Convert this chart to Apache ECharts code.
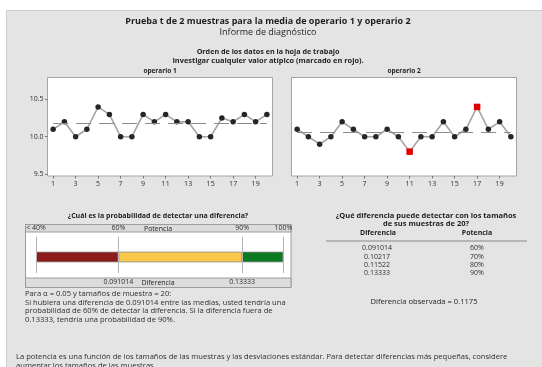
<!DOCTYPE html>
<html>
<head>
<meta charset="utf-8">
<script src="https://cdn.jsdelivr.net/npm/echarts@6/dist/echarts.min.js"></script>
<style>
html, body { margin: 0; padding: 0; background: #ffffff; }
#chart { width: 542px; height: 367px; }
</style>
</head>
<body>
<div id="chart"></div>
<script>
// Observation order (worksheet rows)
const obsOrder = ['1','2','3','4','5','6','7','8','9','10','11','12','13','14','15','16','17','18','19','20'];
// Measurements per operator
const operario1 = [10.1, 10.2, 10.0, 10.1, 10.4, 10.3, 10.0, 10.0, 10.3, 10.2, 10.3, 10.2, 10.2, 10.0, 10.0, 10.25, 10.2, 10.3, 10.2, 10.3];
const operario2 = [10.1, 10.0, 9.9, 10.0, 10.2, 10.1, 10.0, 10.0, 10.1, 10.0, 9.8, 10.0, 10.0, 10.2, 10.0, 10.1, 10.4, 10.1, 10.2, 10.0];
// Rows flagged as unusual (1-based) for operario 2
const outliers2 = [11, 17];
// Y tick labels for the data-order plots
const yTicks = [9.5, 10.0, 10.5];

// Power scale
const powerBreaks = [40, 60, 90, 100];
const powerTickLabels = ['< 40%', '60%', '90%', '100%'];
const powerColors = ['#8c1c1c', '#fbc84a', '#0c7a20'];
// Detectable differences for n = 20
const detectDiffs = ['0.091014', '0.10217', '0.11522', '0.13333'];
const detectPowers = [60, 70, 80, 90];
const observedDiff = '0.1175';

const FONT = 'Open Sans';
const TXT = '#2e2e2e';

const mean = a => a.reduce((s, v) => s + v, 0) / a.length;

function dataOrderSeries(values, xi, flagged) {
  const m = mean(values);
  return {
    type: 'line',
    xAxisIndex: xi, yAxisIndex: xi,
    data: values.map((v, i) => flagged.includes(i + 1)
      ? { value: v, symbol: 'rect', symbolSize: 6.5, itemStyle: { color: '#e00000' } }
      : v),
    symbol: 'circle', symbolSize: 5.5,
    itemStyle: { color: '#262626' },
    lineStyle: { color: '#a4a4a4', width: 1.6 },
    z: 3,
    markLine: {
      silent: true, symbol: ['none', 'none'],
      label: { show: false },
      lineStyle: { color: '#8c8c8c', width: 1, type: [15, 8] },
      data: [[{ coord: [0, m] }, { coord: [values.length - 1, m] }]]
    }
  };
}

function catAxis(gi) {
  return {
    type: 'category', gridIndex: gi, data: obsOrder, boundaryGap: true,
    axisLine: { show: false },
    axisTick: { show: true, interval: 1, alignWithLabel: true, length: 2.5, lineStyle: { color: '#777' } },
    axisLabel: { interval: 1, fontSize: 7, color: TXT, fontFamily: FONT, margin: 4 },
    splitLine: { show: false }
  };
}

const diffAt = p => detectDiffs[detectPowers.indexOf(p)];

const texts = [
  { x: 268, y: 21, s: 'Prueba t de 2 muestras para la media de operario 1 y operario 2', size: 9, w: 'bold' },
  { x: 268, y: 32, s: 'Informe de diagnóstico', size: 9, w: 'normal' },
  { x: 268, y: 51.5, s: 'Orden de los datos en la hoja de trabajo', size: 7.2, w: 'bold' },
  { x: 268, y: 60.5, s: 'Investigar cualquier valor atípico (marcado en rojo).', size: 7.4, w: 'bold' },
  { x: 160, y: 71, s: 'operario 1', size: 6.5, w: 'bold' },
  { x: 404, y: 71, s: 'operario 2', size: 6.5, w: 'bold' },
  { x: 158, y: 215.7, s: '¿Cuál es la probabilidad de detectar una diferencia?', size: 7, w: 'bold' },
  { x: 426, y: 215.7, s: '¿Qué diferencia puede detectar con los tamaños', size: 7.5, w: 'bold' },
  { x: 426, y: 223.5, s: 'de sus muestras de 20?', size: 7.5, w: 'bold' },
  { x: 378, y: 233.3, s: 'Diferencia', size: 7, w: 'bold' },
  { x: 477, y: 233.3, s: 'Potencia', size: 7, w: 'bold' },
  { x: 158, y: 228.6, s: 'Potencia', size: 7, w: 'normal' },
  { x: 158, y: 282.6, s: 'Diferencia', size: 7, w: 'normal' },
  { x: 424, y: 302.3, s: 'Diferencia observada = ' + observedDiff, size: 7.6, w: 'normal' }
];
const leftTexts = [
  { y: 294, s: 'Para α = 0.05 y tamaños de muestra = 20:' },
  { y: 302.5, s: 'Si hubiera una diferencia de ' + detectDiffs[0] + ' entre las medias, usted tendría una' },
  { y: 311, s: 'probabilidad de ' + detectPowers[0] + '% de detectar la diferencia. Si la diferencia fuera de' },
  { y: 319.5, s: detectDiffs[3] + ', tendría una probabilidad de ' + detectPowers[3] + '%.' },
  { y: 357, s: 'La potencia es una función de los tamaños de las muestras y las desviaciones estándar. Para detectar diferencias más pequeñas, considere', x: 16 },
  { y: 366, s: 'aumentar los tamaños de las muestras.', x: 16 }
];

const graphics = [
  { type: 'rect', z: -10, shape: { x: 6.5, y: 10.5, width: 540, height: 360 },
    style: { fill: '#e4e4e4', stroke: '#cccccc', lineWidth: 1 } },
  { type: 'rect', z: -5, shape: { x: 25.5, y: 224.5, width: 265.5, height: 63 },
    style: { fill: '#ffffff', stroke: '#9c9c9c', lineWidth: 1 } },
  { type: 'rect', z: -4, shape: { x: 25.5, y: 224.5, width: 265.5, height: 7.5 },
    style: { fill: '#dcdcdc', stroke: '#9c9c9c', lineWidth: 1 } },
  { type: 'rect', z: -4, shape: { x: 25.5, y: 278, width: 265.5, height: 9.5 },
    style: { fill: '#dcdcdc', stroke: '#9c9c9c', lineWidth: 1 } },
  { type: 'line', shape: { x1: 326, y1: 241, x2: 527, y2: 241 },
    style: { stroke: '#888', lineWidth: 1 } }
];
texts.forEach(t => graphics.push({
  type: 'text', x: t.x, y: t.y,
  style: { text: t.s, fontSize: t.size, fontWeight: t.w, fontFamily: FONT, fill: '#1e1e1e', textAlign: 'center', textVerticalAlign: 'middle' }
}));
leftTexts.forEach(t => graphics.push({
  type: 'text', x: t.x || 25, y: t.y,
  style: { text: t.s, fontSize: 7.6, fontFamily: FONT, fill: TXT, textAlign: 'left', textVerticalAlign: 'middle' }
}));
const rowY = [248.3, 256.7, 265, 273.3];
detectDiffs.forEach((d, i) => {
  graphics.push({ type: 'text', x: 377, y: rowY[i],
    style: { text: d, fontSize: 7, fontFamily: FONT, fill: TXT, textAlign: 'center', textVerticalAlign: 'middle' } });
  graphics.push({ type: 'text', x: 477, y: rowY[i],
    style: { text: detectPowers[i] + '%', fontSize: 7, fontFamily: FONT, fill: TXT, textAlign: 'center', textVerticalAlign: 'middle' } });
});

const yRange = { min: 9.473, max: 10.795 };

const option = {
  animation: false,
  textStyle: { fontFamily: FONT },
  graphic: { elements: graphics },
  grid: [
    { left: 47.5, top: 77.5, width: 225, height: 98.5, show: true, backgroundColor: '#ffffff', borderColor: '#a4a4a4', borderWidth: 1 },
    { left: 291.5, top: 77.5, width: 225, height: 98.5, show: true, backgroundColor: '#ffffff', borderColor: '#a4a4a4', borderWidth: 1 },
    { left: 36, top: 236.7, width: 247.3, height: 36.3 },
    { left: 36, top: 251.7, width: 247.3, height: 10.6 }
  ],
  xAxis: [
    catAxis(0),
    catAxis(1),
    { type: 'value', gridIndex: 2, min: powerBreaks[0], max: powerBreaks[powerBreaks.length - 1], position: 'top',
      axisLine: { show: false }, axisTick: { show: false }, splitLine: { show: false },
      axisLabel: { customValues: powerBreaks, formatter: v => powerTickLabels[powerBreaks.indexOf(v)],
        fontSize: 7, color: TXT, fontFamily: FONT, margin: 5 } },
    { type: 'value', gridIndex: 2, min: powerBreaks[0], max: powerBreaks[powerBreaks.length - 1], position: 'bottom',
      axisLine: { show: false }, axisTick: { show: false }, splitLine: { show: false },
      axisLabel: { customValues: [detectPowers[0], detectPowers[3]], formatter: v => diffAt(v),
        fontSize: 7, color: TXT, fontFamily: FONT, margin: 5 } },
    { type: 'value', gridIndex: 3, min: powerBreaks[0], max: powerBreaks[powerBreaks.length - 1], show: false }
  ],
  yAxis: [
    { type: 'value', gridIndex: 0, min: yRange.min, max: yRange.max,
      axisLine: { show: false }, splitLine: { show: false },
      axisTick: { show: true, customValues: yTicks, length: 2.5, lineStyle: { color: '#777' } },
      axisLabel: { customValues: yTicks, formatter: v => v.toFixed(1), fontSize: 7, color: TXT, fontFamily: FONT, margin: 4 } },
    { type: 'value', gridIndex: 1, min: yRange.min, max: yRange.max, show: true,
      axisLine: { show: false }, splitLine: { show: false }, axisTick: { show: false }, axisLabel: { show: false } },
    { type: 'value', gridIndex: 2, min: 0, max: 1, show: false },
    { type: 'category', gridIndex: 3, data: ['potencia'], show: false }
  ],
  series: [
    dataOrderSeries(operario1, 0, []),
    dataOrderSeries(operario2, 1, outliers2),
    {
      type: 'scatter', xAxisIndex: 2, yAxisIndex: 2, symbolSize: 0, silent: true,
      data: [[powerBreaks[0], 0.5]],
      markLine: {
        silent: true, symbol: ['none', 'none'], label: { show: false },
        lineStyle: { color: '#b4b4b4', width: 1, type: 'solid' },
        data: powerBreaks.map(v => ({ xAxis: v }))
      }
    },
    // transparent base so the coloured segments start at the first break
    { type: 'bar', xAxisIndex: 4, yAxisIndex: 3, stack: 'p', barWidth: 10.6, silent: true,
      itemStyle: { color: 'transparent' }, data: [powerBreaks[0]] },
    ...powerColors.map((c, i) => ({
      type: 'bar', xAxisIndex: 4, yAxisIndex: 3, stack: 'p', barWidth: 10.6, silent: true,
      itemStyle: { color: c, borderColor: '#8a8a8a', borderWidth: 0.8 },
      data: [powerBreaks[i + 1] - powerBreaks[i]]
    }))
  ]
};

echarts.init(document.getElementById('chart'), null, { renderer: 'canvas' }).setOption(option);
</script>
</body>
</html>
